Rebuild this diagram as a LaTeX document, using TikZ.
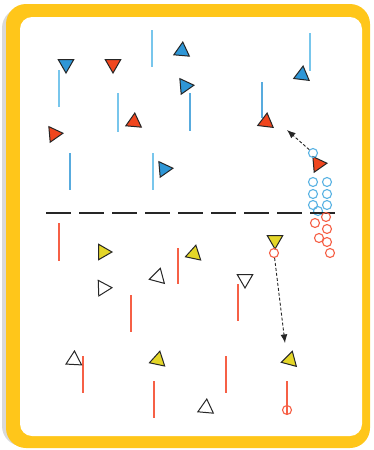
\documentclass[tikz,border=0pt]{standalone}
\usepackage{xcolor}
\usepackage{tikz}
\usetikzlibrary{shapes.geometric, arrows.meta, positioning}
\definecolor{frameyellow}{RGB}{255, 198, 26}
\definecolor{lineblue}{RGB}{120, 198, 236}
\definecolor{triblue}{RGB}{46, 150, 214}
\definecolor{trired}{RGB}{240, 70, 30}
\definecolor{triyellow}{RGB}{228, 214, 40}
\definecolor{linered}{RGB}{246, 96, 70}

\begin{document}
\begin{tikzpicture}[
    x=1pt, y=-1pt,
    tri/.style={
        regular polygon,
        regular polygon sides=3,
        draw=black!85,
        line width=1pt,
        minimum size=18pt,
        inner sep=0pt
    },
    bluetri/.style={tri, fill=triblue},
    redtri/.style={tri, fill=trired},
    yellowtri/.style={tri, fill=triyellow},
    whitetri/.style={tri, fill=white},
    blueline/.style={draw=lineblue, line width=1.4pt},
    redline/.style={draw=linered, line width=1.4pt},
    bluedot/.style={circle, draw=lineblue!60!triblue, line width=1.1pt, minimum size=9pt, inner sep=0pt},
    reddot/.style={circle, draw=linered, line width=1.1pt, minimum size=9pt, inner sep=0pt},
    pass/.style={
        dash pattern=on 3pt off 2pt,
        line width=0.9pt,
        -{Latex[length=3mm, width=2.4mm]},
        draw=black!85
    }
]
\useasboundingbox (0,0) rectangle (373,450);

% ==================== FRAME ====================
\fill[black!15, rounded corners=20pt] (2,8) rectangle (362,446);
\fill[frameyellow, rounded corners=20pt] (6,4) rectangle (370,448);
\fill[white, rounded corners=12pt] (20,17) rectangle (362,436);

% ==================== UPPER HALF (BLUE LINES) ====================
\draw[blueline] (152,30) -- (152,67);
\draw[blueline] (59,70) -- (59,107);
\draw[blueline] (118,93) -- (118,132);
\draw[blueline, draw=triblue!80] (190,93) -- (190,131);
\draw[blueline, draw=triblue!80] (262,82) -- (262,118);
\draw[blueline] (310,33) -- (310,71);
\draw[blueline, draw=triblue!80] (70,153) -- (70,190);
\draw[blueline] (153,153) -- (153,190);

\node (b1) [bluetri, rotate=180] at (66,64) {};
\node (r1) [redtri, rotate=180] at (113,64) {};
\node (b2) [bluetri, rotate=-5] at (182,51) {};
\node (b3) [bluetri, rotate=-85] at (185,86) {};
\node (b4) [bluetri, rotate=-7] at (302,75) {};
\node (r2) [redtri, rotate=-85] at (54,134) {};
\node (r3) [redtri, rotate=-5] at (134,122) {};
\node (r4) [redtri, rotate=-7] at (266,122) {};
\node (b5) [bluetri, rotate=-85] at (164,169) {};
\node (r5) [redtri, rotate=-85] at (318,164) {};

% blue stack
\node (bd0) [bluedot] at (313,153) {};
\node (bd1) [bluedot] at (313,182) {};
\node (bd2) [bluedot] at (327,182) {};
\node (bd3) [bluedot] at (313,194) {};
\node (bd4) [bluedot] at (327,194) {};
\node (bd5) [bluedot] at (313,205) {};
\node (bd6) [bluedot] at (327,205) {};
\node (bd7) [bluedot] at (318,211) {};

\coordinate (upgoal) at (287,130);
\draw [pass] (bd0) -- (upgoal);

% ==================== DIVIDER ====================
\draw[black!85, line width=2.5pt, dash pattern=on 25pt off 8pt] (46,213) -- (337,213);

% ==================== LOWER HALF (RED LINES) ====================
\draw[redline] (59,223) -- (59,261);
\draw[redline] (178,248) -- (178,284);
\draw[redline] (131,295) -- (131,332);
\draw[redline] (238,284) -- (238,321);
\draw[redline] (83,356) -- (83,393);
\draw[redline] (154,381) -- (154,418);
\draw[redline] (226,356) -- (226,393);

% red stack
\node (rd1) [reddot] at (326,217) {};
\node (rd2) [reddot] at (315,223) {};
\node (rd3) [reddot] at (327,229) {};
\node (rd4) [reddot] at (319,238) {};
\node (rd5) [reddot] at (327,242) {};
\node (rd6) [reddot] at (330,253) {};

\node (y1) [yellowtri, rotate=-90] at (103,252) {};
\node (y2) [yellowtri, rotate=-12] at (194,254) {};
\node (w1) [whitetri, rotate=-15] at (158,277) {};
\node (w2) [whitetri, rotate=-88] at (103,288) {};
\node (w3) [whitetri, rotate=180] at (245,279) {};
\node (w4) [whitetri, rotate=-3] at (74,360) {};
\node (y3) [yellowtri, rotate=-12] at (158,360) {};
\node (y4) [yellowtri, rotate=-15] at (290,360) {};
\node (w5) [whitetri, rotate=-5] at (206,408) {};
\node (y5) [yellowtri, rotate=180] at (275,240) {};

\node (rd7) [reddot] at (274,253) {};
\coordinate (downgoal) at (285,343);
\draw [pass] (rd7) -- (downgoal);

\node (rd8) [reddot] at (287,410) {};
\draw[redline] (287,381) -- (rd8.north);
\draw[redline] (rd8.north) -- (rd8.south);

\end{tikzpicture}
\end{document}
